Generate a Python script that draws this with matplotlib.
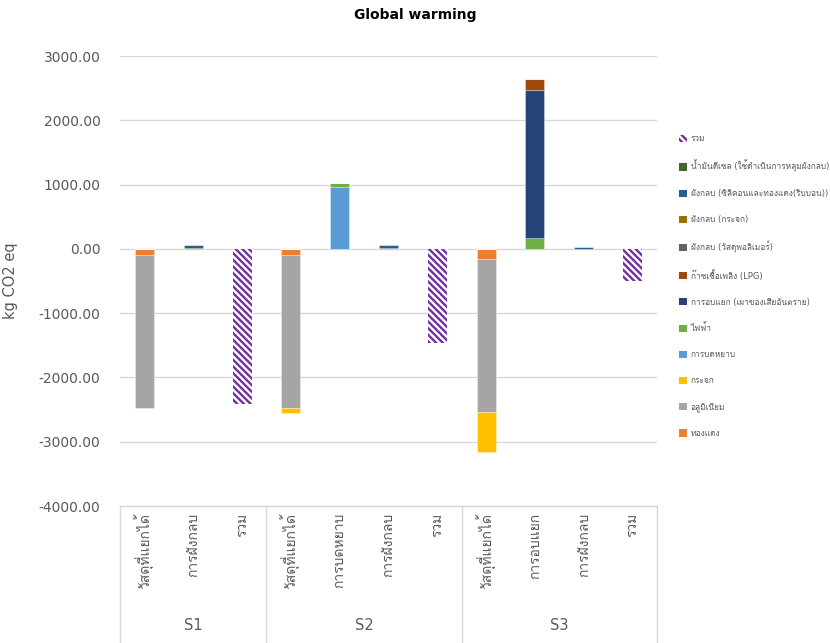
import matplotlib
matplotlib.use("Agg")
import matplotlib.pyplot as plt
from matplotlib.patches import Patch
from matplotlib.lines import Line2D
import numpy as np

plt.rcParams['font.family'] = ['DejaVu Sans', 'Loma']
plt.rcParams['hatch.linewidth'] = 1.7

# Categories (grouped by scenario)
groups = ["S1", "S2", "S3"]
group_sizes = [3, 4, 4]
categories = ["วัสดุที่แยกได้", "การฝังกลบ", "รวม",
              "วัสดุที่แยกได้", "การบดหยาบ", "การฝังกลบ", "รวม",
              "วัสดุที่แยกได้", "การอบแยก", "การฝังกลบ", "รวม"]

# Series values (kg CO2 eq), in stacking order
copper        = [-90, 0, 0, -90, 0, 0, 0, -160, 0, 0, 0]
aluminium     = [-2380, 0, 0, -2380, 0, 0, 0, -2385, 0, 0, 0]
glass         = [0, 0, 0, -85, 0, 0, 0, -615, 0, 0, 0]
crushing      = [0, 0, 0, 0, 968, 0, 0, 0, 0, 0, 0]
electricity   = [0, 0, 0, 0, 52, 0, 0, 0, 166, 0, 0]
incineration  = [0, 0, 0, 0, 0, 0, 0, 0, 2305, 0, 0]
lpg           = [0, 0, 0, 0, 0, 0, 0, 0, 168, 0, 0]
lf_polymer    = [0, 5, 0, 0, 0, 5, 0, 0, 0, 3, 0]
lf_glass      = [0, 10, 0, 0, 0, 10, 0, 0, 0, 2, 0]
lf_silicon    = [0, 40, 0, 0, 0, 40, 0, 0, 0, 20, 0]
diesel        = [0, 5, 0, 0, 0, 5, 0, 0, 0, 3, 0]
total         = [0, 0, -2410, 0, 0, 0, -1467, 0, 0, 0, -493]

series = [
    ("ทองแดง", copper, "#ED7D31"),
    ("อลูมิเนียม", aluminium, "#A5A5A5"),
    ("กระจก", glass, "#FFC000"),
    ("การบดหยาบ", crushing, "#5B9BD5"),
    ("ไฟฟ้า", electricity, "#70AD47"),
    ("การอบแยก (เผาของเสียอันตราย)", incineration, "#264478"),
    ("ก๊าซเชื้อเพลิง (LPG)", lpg, "#9E480E"),
    ("ฝังกลบ (วัสดุพอลิเมอร์)", lf_polymer, "#636363"),
    ("ฝังกลบ (กระจก)", lf_glass, "#997300"),
    ("ฝังกลบ (ซิลิคอนและทองแดง(ริบบอน))", lf_silicon, "#255E91"),
    ("น้ำมันดีเซล (ใช้ดำเนินการหลุมฝังกลบ)", diesel, "#43682B"),
]
total_label = "รวม"
total_color = "#7030A0"
text_color = "#595959"

W, H = 830, 643
fig = plt.figure(figsize=(W / 100, H / 100), dpi=100)
ax_l, ax_r, ax_t, ax_b = 120, 657, 56, 506
ax = fig.add_axes([ax_l / W, 1 - ax_b / H, (ax_r - ax_l) / W, (ax_b - ax_t) / H])

x = np.arange(len(categories))
width = 0.39
pos_base = np.zeros(len(x))
neg_base = np.zeros(len(x))
for name, vals, color in series:
    v = np.array(vals, dtype=float)
    bottom = np.where(v >= 0, pos_base, neg_base)
    ax.bar(x, v, width, bottom=bottom, color=color, edgecolor=(1, 1, 1, 0.45),
           linewidth=0.5, zorder=3)
    pos_base += np.where(v > 0, v, 0)
    neg_base += np.where(v < 0, v, 0)

ax.bar(x, total, width, color="white", edgecolor=total_color, hatch="\\\\\\\\\\",
       linewidth=0, zorder=3)

ax.set_xlim(-0.5, len(x) - 0.5)
ax.set_ylim(-4000, 3000)
yt = np.arange(-4000, 3001, 1000)
ax.set_yticks(yt)
ax.set_yticklabels([f"{v:.2f}" for v in yt], fontsize=10, color=text_color)
ax.tick_params(axis="y", length=0, pad=14)
ax.grid(axis="y", color="#D9D9D9", linewidth=1, zorder=0)
ax.set_axisbelow(True)
for s in ["top", "right", "left"]:
    ax.spines[s].set_visible(False)
ax.spines["bottom"].set_color("#D9D9D9")
ax.spines["bottom"].set_linewidth(1)

ax.set_xticks(x)
ax.set_xticklabels(categories, rotation=90, ha="center", va="top",
                   fontsize=10, color=text_color)
ax.tick_params(axis="x", length=0, pad=5)

ax.set_ylabel("kg CO2 eq", fontsize=10.5, color=text_color)
ax.yaxis.set_label_coords(-(ax_l - 18) / (ax_r - ax_l), 0.5)

# Group separators and group labels below the category labels
depth = (H - ax_b) / (ax_b - ax_t)
edges = np.concatenate([[0], np.cumsum(group_sizes)]) - 0.5
trans = ax.get_xaxis_transform()
for e in edges:
    ax.add_line(Line2D([e, e], [0, -depth - 0.01], transform=trans, color="#D9D9D9",
                       linewidth=1, clip_on=False))
for g, a, b in zip(groups, edges[:-1], edges[1:]):
    ax.text((a + b) / 2, -(625 - ax_b) / (ax_b - ax_t), g, transform=trans,
            ha="center", va="center", fontsize=10.5, color=text_color)

fig.text(0.5, 1 - 15 / H, "Global warming", ha="center", va="center",
         fontsize=10, fontweight="bold", color="#000000")

handles = [Patch(facecolor="white", edgecolor=total_color, hatch="\\\\\\\\\\", linewidth=0)]
labels = [total_label]
for name, vals, color in reversed(series):
    handles.append(Patch(facecolor=color, edgecolor="none"))
    labels.append(name)
leg = fig.legend(handles, labels, loc="upper left",
                 bbox_to_anchor=(679 / W, 1 - 134 / H), frameon=False,
                 fontsize=6.0, handlelength=0.95, handleheight=0.95,
                 handletextpad=0.45, labelspacing=2.03, borderaxespad=0,
                 borderpad=0)
for t in leg.get_texts():
    t.set_color(text_color)

fig.savefig("out.png", dpi=100)
